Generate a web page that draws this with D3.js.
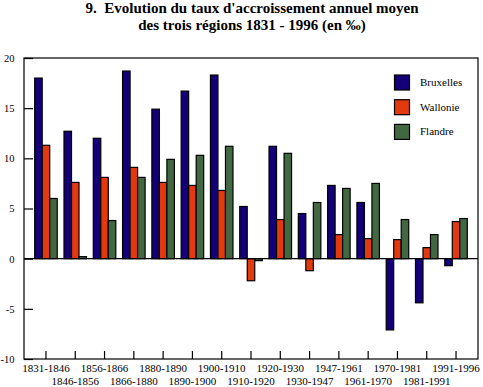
<!DOCTYPE html>
<html><head><meta charset="utf-8">
<script src="https://cdn.jsdelivr.net/npm/d3@7"></script>
<style>body{margin:0;background:#fff}svg{display:block}</style>
</head><body><svg id="c" width="483" height="387"></svg>
<script>
const categories = ["1831-1846","1846-1856","1856-1866","1866-1880","1880-1890","1890-1900","1900-1910","1910-1920","1920-1930","1930-1947","1947-1961","1961-1970","1970-1981","1981-1991","1991-1996"];
const seriesNames = ["Bruxelles","Wallonie","Flandre"];
const bruxelles = [18.0,12.7,12.0,18.7,14.9,16.7,18.3,5.2,11.2,4.5,7.3,5.6,-7.1,-4.4,-0.7];
const wallonie  = [11.3,7.6,8.1,9.1,7.6,7.3,6.8,-2.2,3.9,-1.2,2.4,2.0,1.9,1.1,3.7];
const flandre   = [6.0,0.2,3.8,8.1,9.9,10.3,11.2,-0.2,10.5,5.6,7.0,7.5,3.9,2.4,4.0];
const yTicks = [-10,-5,0,5,10,15,20];
const colors = ["#130078","#e2390f","#426842"];
const titleLines = ["9.\u00a0\u00a0Evolution du taux d'accroissement annuel moyen","des trois régions 1831 - 1996 (en ‰)"];

const FONT = "'Liberation Serif','DejaVu Serif','Times New Roman',serif";
const values = [bruxelles, wallonie, flandre];
const svg = d3.select("#c");
const L = 24, R = 478, T = 58, B = 359;
const x0 = d3.scaleBand().domain(categories).range([L, R]).paddingInner(0).paddingOuter(0.25);
const x1 = d3.scaleBand().domain(seriesNames).range([0, x0.bandwidth()]).paddingInner(0).paddingOuter(0.45);
const y = d3.scaleLinear().domain([-10, 20]).range([B, T]);

// title
svg.selectAll("text.title").data(titleLines).join("text")
  .attr("class","title").attr("x",252).attr("y",(d,i)=>13+i*17)
  .attr("text-anchor","middle").attr("font-family",FONT).attr("font-size",15).attr("font-weight","bold").text(d=>d);

// frame
svg.append("rect").attr("x",L).attr("y",T).attr("width",R-L).attr("height",B-T)
  .attr("fill","none").attr("stroke","#000").attr("stroke-width",1.2);

// bars
categories.forEach((c,ci)=>{
  seriesNames.forEach((s,si)=>{
    const v = values[si][ci];
    svg.append("rect")
      .attr("x", x0(c)+x1(s)).attr("width", x1.bandwidth())
      .attr("y", y(Math.max(0,v))).attr("height", Math.abs(y(v)-y(0)))
      .attr("fill", colors[si]).attr("stroke","#000").attr("stroke-width",1.2);
  });
});

// zero line
svg.append("line").attr("x1",L).attr("x2",R).attr("y1",y(0)).attr("y2",y(0)).attr("stroke","#000").attr("stroke-width",1.2);

// y axis ticks & labels
const yAxis = d3.axisRight(y).tickValues(yTicks).tickSize(9).tickSizeOuter(0).tickFormat(d => String(d));
const ya = svg.append("g").attr("transform",`translate(${L},0)`).call(yAxis);
ya.attr("font-family",FONT);
ya.select(".domain").remove();
ya.selectAll("line").attr("stroke","#000").attr("stroke-width",1.2);
ya.selectAll("text").attr("text-anchor","end").attr("x",-9.5).attr("font-size",10.5).attr("fill","#000");

// x axis ticks
const xa = svg.append("g").attr("transform",`translate(0,${B})`).call(d3.axisTop(x0).tickSize(8).tickSizeOuter(0).tickFormat(""));
xa.select(".domain").remove();
xa.selectAll("line").attr("stroke","#000").attr("stroke-width",1.2);
svg.selectAll("text.xl").data(categories).join("text").attr("class","xl")
  .attr("x",d=>x0(d)+x0.bandwidth()/2).attr("y",(d,i)=>i%2===0?372:385)
  .attr("text-anchor","middle").attr("font-family",FONT).attr("font-size",11).text(d=>d);

// legend
const lg = svg.append("g");
seriesNames.forEach((s,i)=>{
  lg.append("rect").attr("x",394.5).attr("y",75+i*24.7).attr("width",15).attr("height",15)
    .attr("fill",colors[i]).attr("stroke","#000").attr("stroke-width",1.2);
  lg.append("text").attr("x",420).attr("y",86+i*24.7).attr("font-family",FONT).attr("font-size",11).text(s);
});
</script></body></html>
